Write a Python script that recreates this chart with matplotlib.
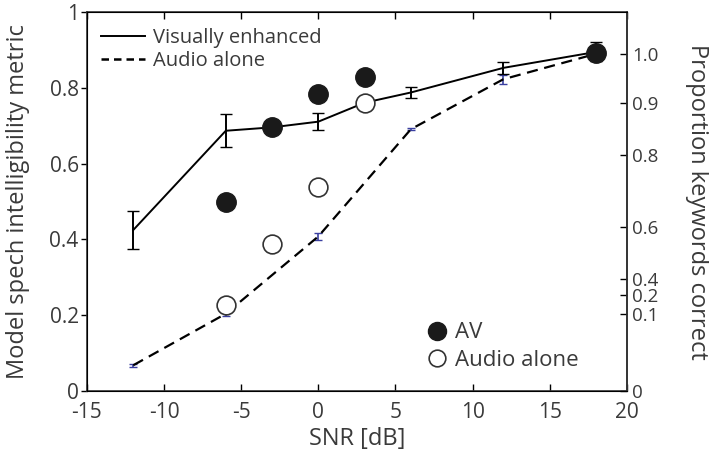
import numpy as np
import matplotlib.pyplot as plt
from matplotlib.lines import Line2D

plt.rcParams['font.family'] = ['Open Sans', 'DejaVu Sans']
plt.rcParams['axes.unicode_minus'] = False

# model curves (left axis)
snr_ve = [-12, -6, -3, 0, 3, 6, 12, 18]
ve = [0.425, 0.687, 0.696, 0.711, 0.761, 0.788, 0.853, 0.895]
ve_err = [0.05, 0.043, 0.0, 0.022, 0.0, 0.015, 0.016, 0.025]

snr_ao = [-12, -6, 0, 6, 12, 18]
ao = [0.068, 0.204, 0.408, 0.691, 0.823, 0.89]
ao_err = [0.004, 0.005, 0.01, 0.003, 0.012, 0.005]

# measured points
snr_pts = [-6, -3, 0, 3, 18]
av_pts = [0.498, 0.696, 0.785, 0.829, 0.893]
snr_open = [-6, -3, 0, 3]
audio_pts = [0.226, 0.387, 0.539, 0.761]

# right axis: labels placed at the matching left-axis heights
right_pos = [0.0, 0.203, 0.253, 0.297, 0.432, 0.624, 0.761, 0.889]
right_lab = ['0', '0.1', '0.2', '0.4', '0.6', '0.8', '0.9', '1.0']

txt = '#3a3a3a'
fig = plt.figure(figsize=(7.09, 4.51), dpi=100)
ax = fig.add_axes([0.1227, 0.133, 0.7613, 0.84])

ax.errorbar(snr_ao, ao, yerr=ao_err, color='black', ls='--', lw=1.6,
            dashes=(5, 3), ecolor='#3a3fa0', elinewidth=1.2, capsize=3, zorder=2)
ax.errorbar(snr_ve, ve, yerr=ve_err, color='black', ls='-', lw=1.4,
            ecolor='black', elinewidth=1.4, capsize=4, zorder=3)
ax.plot(snr_open, audio_pts, 'o', ms=13.5, mfc='white', mec='#333333',
        mew=1.2, ls='none', zorder=4)
ax.plot(snr_pts, av_pts, 'o', ms=14, mfc='#1a1a1a', mec='#1a1a1a',
        ls='none', zorder=5)

ax.set_xlim(-15, 20)
ax.set_ylim(0, 1)
ax.set_xticks(np.arange(-15, 21, 5))
ax.set_yticks([0, 0.2, 0.4, 0.6, 0.8, 1])
ax.set_yticklabels(['0', '0.2', '0.4', '0.6', '0.8', '1'])
ax.tick_params(axis='x', direction='in', top=True, length=5, width=1,
               labelsize=15, labelcolor=txt, pad=8)
ax.tick_params(axis='y', direction='out', length=4, width=1,
               labelsize=15, labelcolor=txt, pad=2)
for s in ax.spines.values():
    s.set_color('#333333')
    s.set_linewidth(1.2)

ax.set_xlabel('SNR [dB]', fontsize=17, color=txt, labelpad=3)
ax.set_ylabel('Model spech intelligibility metric', fontsize=17, color=txt, labelpad=14)

ax2 = ax.twinx()
ax2.set_ylim(0, 1)
ax2.set_yticks(right_pos)
ax2.set_yticklabels(right_lab)
ax2.tick_params(axis='y', direction='in', length=5, width=1,
                labelsize=13.5, labelcolor=txt, pad=4)
ax2.spines['right'].set_color('#333333')
ax2.spines['right'].set_linewidth(1.2)
ax2.set_ylabel('Proportion keywords correct', fontsize=17, color=txt,
               rotation=-90, labelpad=36)

h1 = [Line2D([], [], color='black', lw=1.4),
      Line2D([], [], color='black', lw=1.8, ls='--', dashes=(3, 2))]
leg1 = ax.legend(h1, ['Visually enhanced', 'Audio alone'], loc='upper left',
                 bbox_to_anchor=(0.0, 0.995), frameon=False, fontsize=14.5,
                 handlelength=2.2, handletextpad=0.4, labelspacing=0.15,
                 borderaxespad=0.3, labelcolor=txt)
ax.add_artist(leg1)

h2 = [Line2D([], [], marker='o', ls='none', ms=13, mfc='#1a1a1a', mec='#1a1a1a'),
      Line2D([], [], marker='o', ls='none', ms=12, mfc='white', mec='#333333', mew=1.2)]
ax.legend(h2, ['AV', 'Audio alone'], loc='lower left',
          bbox_to_anchor=(0.595, 0.0), frameon=False, fontsize=16,
          handlelength=0.8, handletextpad=0.4, labelspacing=0.3,
          labelcolor=txt)

fig.savefig('out.png', dpi=100)
